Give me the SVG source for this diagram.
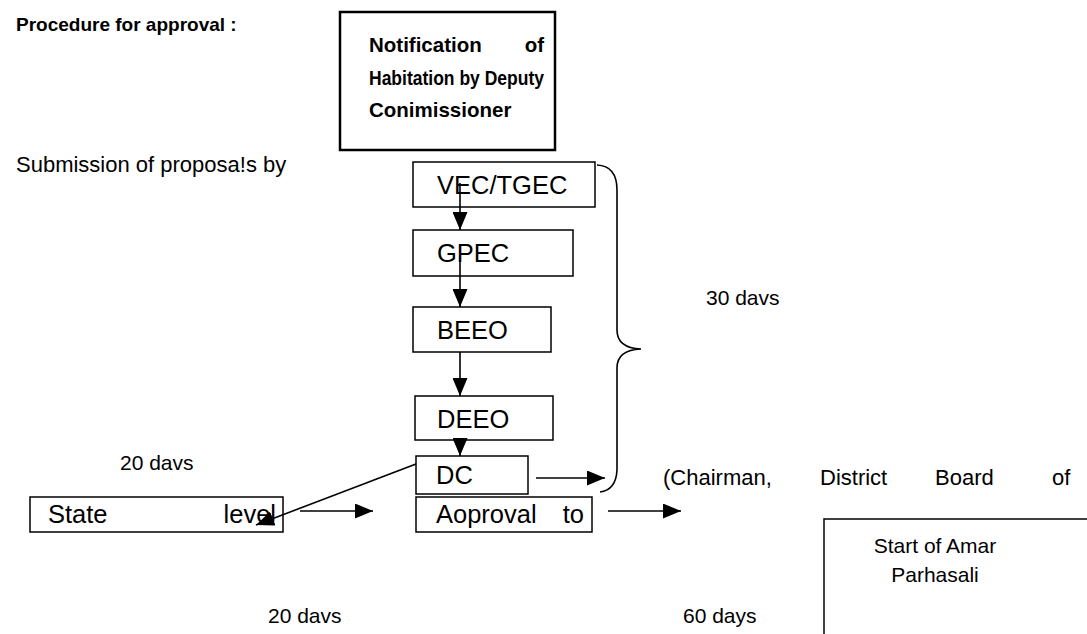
<svg xmlns="http://www.w3.org/2000/svg" width="1087" height="634" viewBox="0 0 1087 634">
<defs>
<marker id="ah" viewBox="0 0 18 15" refX="18" refY="7.5" markerWidth="18" markerHeight="15" markerUnits="userSpaceOnUse" orient="auto">
<path d="M0,0 L18,7.5 L0,15 z" fill="#000"/>
</marker>
<style>
text{font-family:"Liberation Sans",Arial,sans-serif;font-size:21px;fill:#000}
.b{font-weight:bold;font-size:19px}
.n{font-weight:bold;font-size:20.5px}
.l{font-size:25.5px}
.w{font-size:22px}
.box{fill:none;stroke:#000;stroke-width:1.5}
.thick{fill:none;stroke:#000;stroke-width:2.5}
.c{fill:none;stroke:#000;stroke-width:1.6}
</style>
</defs>
<rect width="1087" height="634" fill="#fff"/>
<text class="b" x="16" y="31">Procedure for approval :</text>
<text class="w" x="16" y="172">Submission of proposa!s by</text>
<text x="706" y="305">30 davs</text>
<text x="120" y="470">20 davs</text>
<text class="w" x="663" y="485">(Chairman,</text>
<text class="w" x="820" y="485">District</text>
<text class="w" x="935" y="485">Board</text>
<text class="w" x="1052" y="485">of</text>
<text x="268" y="623">20 davs</text>
<text x="683" y="623">60 days</text>
<g id="notification">
<rect class="thick" x="340" y="12" width="215" height="138"/>
<text class="n" x="369" y="52">Notification</text>
<text class="n" x="544" y="52" text-anchor="end">of</text>
<text class="n" x="369" y="85" textLength="175" lengthAdjust="spacingAndGlyphs">Habitation by Deputy</text>
<text class="n" x="369" y="117">Conimissioner</text>
</g>
<g id="vec"><rect class="box" x="413" y="162" width="182" height="45"/><text class="l" x="437" y="194">VEC/TGEC</text></g>
<g id="gpec"><rect class="box" x="413" y="230" width="160" height="46"/><text class="l" x="437" y="262">GPEC</text></g>
<g id="beeo"><rect class="box" x="413" y="307" width="138" height="45"/><text class="l" x="437" y="339">BEEO</text></g>
<g id="deeo"><rect class="box" x="415" y="396" width="138" height="44"/><text class="l" x="437" y="428">DEEO</text></g>
<g id="dc"><rect class="box" x="416" y="456" width="112" height="38"/><text class="l" x="436" y="484">DC</text></g>
<g id="state"><rect class="box" x="30" y="497" width="253" height="35"/><text class="l" x="48" y="523">State</text><text class="l" x="276" y="523" text-anchor="end">level</text></g>
<g id="approval"><rect class="box" x="416" y="497" width="176" height="35"/><text class="l" x="436" y="523">Aoproval</text><text class="l" x="584" y="523" text-anchor="end">to</text></g>
<g id="start"><path class="box" d="M1087,519 H824 V634"/><text x="935" y="553" text-anchor="middle">Start of Amar</text><text x="935" y="582" text-anchor="middle">Parhasali</text></g>
<g id="connectors">
<line class="c" x1="460" y1="183" x2="460" y2="230" marker-end="url(#ah)"/>
<line class="c" x1="460" y1="255" x2="460" y2="307" marker-end="url(#ah)"/>
<line class="c" x1="460" y1="352" x2="460" y2="396" marker-end="url(#ah)"/>
<line class="c" x1="460" y1="440" x2="460" y2="456" marker-end="url(#ah)"/>
<line class="c" x1="416" y1="464" x2="256" y2="525" marker-end="url(#ah)"/>
<line class="c" x1="300" y1="511" x2="373" y2="511" marker-end="url(#ah)"/>
<line class="c" x1="608" y1="511" x2="681" y2="511" marker-end="url(#ah)"/>
<line class="c" x1="536" y1="478" x2="605" y2="478" marker-end="url(#ah)"/>
<path class="c" d="M597,165 Q617,166 617,190 V330 Q617,348 641,349 Q617,350 617,368 V470 Q616,490 600,492"/>
</g>
</svg>
